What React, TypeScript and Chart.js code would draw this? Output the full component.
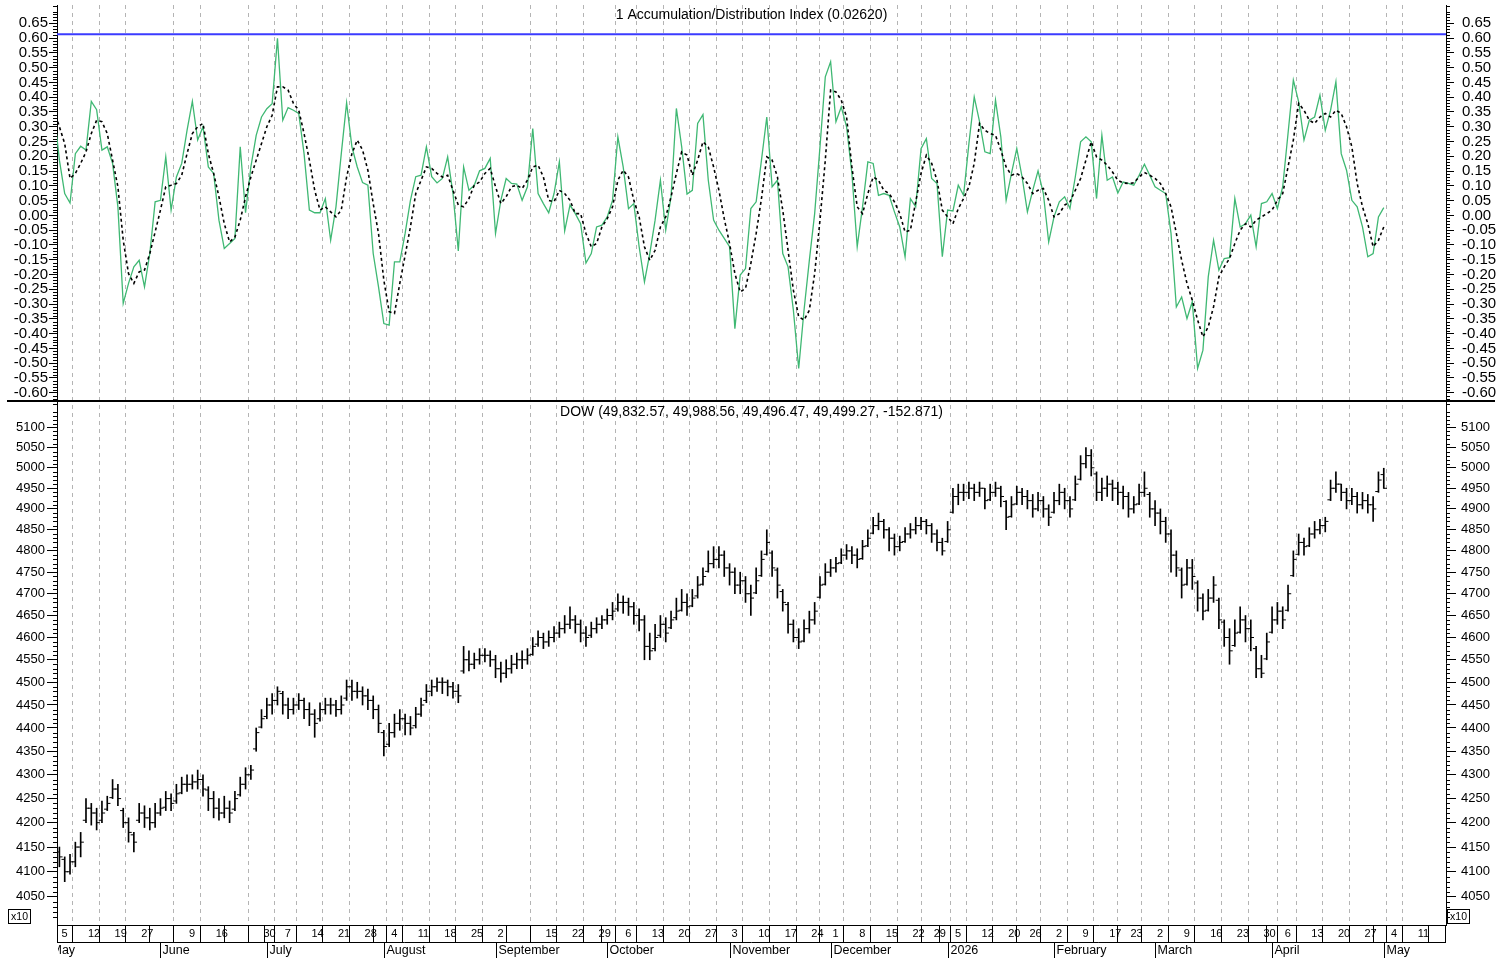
import React, { useEffect, useRef } from "react";
import { Chart, registerables } from "chart.js";

Chart.register(...registerables);

const FONT = '"Liberation Sans", Arial, Helvetica, sans-serif';

// x axis: trading-day index, 0 = Mon 2025-05-05 ... 249 = Fri 2026-05-01
const X_MIN = -0.45;
const X_MAX = 260.7;

const weekTickIdx = [0, 5, 10, 15, 19, 24, 29, 33, 38, 42, 47, 52, 57, 62, 67, 72, 77, 82, 86, 91, 96, 101, 106, 111, 116, 121, 126, 131, 136, 141, 145, 150, 155, 160, 164, 168, 173, 178, 182, 187, 192, 197, 201, 206, 211, 216, 221, 226, 230, 235, 240, 245, 250, 255];
const weekTickLabels = ["5", "12", "19", "27", "", "9", "16", "", "30", "7", "14", "21", "28", "4", "11", "18", "25", "2", "", "15", "22", "29", "6", "13", "20", "27", "3", "10", "17", "24", "1", "8", "15", "22", "29", "5", "12", "20", "26", "2", "9", "17", "23", "2", "9", "16", "23", "30", "6", "13", "20", "27", "4", "11"];
const monthStartIdx = [-2, 19, 39, 61, 82, 103, 126, 145, 167, 187, 206, 228, 249];
const monthLabels = ["May", "June", "July", "August", "September", "October", "November", "December", "2026", "February", "March", "April", "May"];

const adiTitle = "1 Accumulation/Distribution Index (0.02620)";
const dowTitle = "DOW (49,832.57, 49,988.56, 49,496.47, 49,499.27, -152.871)";

const adiTickValues = [-0.6, -0.55, -0.5, -0.45, -0.4, -0.35, -0.3, -0.25, -0.2, -0.15, -0.1, -0.05, 0, 0.05, 0.1, 0.15, 0.2, 0.25, 0.3, 0.35, 0.4, 0.45, 0.5, 0.55, 0.6, 0.65];
const dowTickValues = [4050, 4100, 4150, 4200, 4250, 4300, 4350, 4400, 4450, 4500, 4550, 4600, 4650, 4700, 4750, 4800, 4850, 4900, 4950, 5000, 5050, 5100];

const ADI_MIN = -0.628;
const ADI_MAX = 0.712;
const DOW_MIN = 3994.1;
const DOW_MAX = 5166.8;

const adiReference = 0.613;
const adiStartIdx = -1;
const adiValues = [
  0.350,
  0.187, 0.074, 0.042, 0.209, 0.234, 0.221, 0.386, 0.358, 0.221, 0.232,
  0.176, 0.029, -0.298, -0.230, -0.174, -0.152, -0.242, -0.129, 0.046, 0.051,
  0.198, 0.018, 0.130, 0.176, 0.288, 0.386, 0.255, 0.300, 0.164, 0.142,
  -0.016, -0.112, -0.095, -0.078, 0.232, 0.009, 0.164, 0.271, 0.333, 0.361,
  0.378, 0.599, 0.322, 0.365, 0.356, 0.345, 0.209, 0.018, 0.009, 0.009,
  0.057, -0.084, 0.029, 0.209, 0.381, 0.232, 0.164, 0.111, 0.102, -0.129,
  -0.242, -0.366, -0.371, -0.157, -0.157, -0.061, 0.051, 0.131, 0.136, 0.232,
  0.131, 0.110, 0.125, 0.198, 0.074, -0.120, 0.164, 0.085, 0.102, 0.151,
  0.159, 0.193, -0.061, 0.051, 0.125, 0.108, 0.106, 0.051, 0.097, 0.294,
  0.074, 0.040, 0.009, 0.074, 0.181, -0.052, 0.035, 0.006, -0.028, -0.161,
  -0.129, -0.039, -0.033, -0.005, 0.051, 0.266, 0.164, 0.023, 0.040, -0.106,
  -0.225, -0.129, -0.016, 0.119, -0.050, 0.063, 0.362, 0.232, 0.072, 0.085,
  0.311, 0.341, 0.119, -0.016, -0.050, -0.078, -0.106, -0.383, -0.202, -0.180,
  0.023, 0.046, 0.187, 0.333, 0.097, 0.119, -0.129, -0.174, -0.321, -0.518,
  -0.321, -0.152, 0.006, 0.232, 0.469, 0.520, 0.317, 0.367, 0.300, 0.142,
  -0.106, 0.029, 0.181, 0.176, 0.068, 0.074, 0.068, 0.012, -0.039, -0.140,
  0.057, 0.029, 0.226, 0.260, 0.125, 0.108, -0.140, 0.018, 0.015, 0.102,
  0.068, 0.243, 0.401, 0.317, 0.215, 0.209, 0.390, 0.266, 0.051, 0.142,
  0.226, 0.130, 0.012, 0.085, 0.151, 0.074, -0.090, -0.005, 0.046, 0.063,
  0.023, 0.130, 0.249, 0.266, 0.249, 0.057, 0.271, 0.119, 0.130, 0.076,
  0.113, 0.108, 0.102, 0.136, 0.173, 0.136, 0.097, 0.085, 0.074, -0.061,
  -0.310, -0.276, -0.349, -0.292, -0.518, -0.456, -0.208, -0.084, -0.185, -0.146,
  -0.143, 0.057, -0.039, -0.028, 0.001, -0.106, 0.040, 0.046, 0.074, 0.023,
  0.097, 0.277, 0.458, 0.384, 0.255, 0.322, 0.333, 0.407, 0.288, 0.356,
  0.452, 0.209, 0.153, 0.051, 0.029, -0.039, -0.140, -0.129, -0.005, 0.0262,
];
const adiAverage = [
  0.356,
  0.300, 0.243, 0.125, 0.142, 0.176, 0.215, 0.277, 0.322, 0.317, 0.277,
  0.187, 0.097, -0.084, -0.197, -0.230, -0.191, -0.185, -0.129, -0.056, 0.018,
  0.097, 0.102, 0.108, 0.136, 0.209, 0.277, 0.300, 0.311, 0.209, 0.142,
  0.063, -0.028, -0.090, -0.073, -0.016, 0.063, 0.130, 0.187, 0.243, 0.300,
  0.339, 0.435, 0.435, 0.424, 0.379, 0.356, 0.277, 0.187, 0.085, 0.018,
  0.029, 0.012, -0.005, 0.018, 0.130, 0.209, 0.255, 0.221, 0.153, 0.040,
  -0.061, -0.219, -0.326, -0.332, -0.230, -0.135, -0.039, 0.074, 0.119, 0.164,
  0.159, 0.142, 0.130, 0.136, 0.085, 0.035, 0.029, 0.057, 0.102, 0.113,
  0.142, 0.159, 0.097, 0.040, 0.063, 0.097, 0.102, 0.091, 0.119, 0.164,
  0.170, 0.130, 0.051, 0.046, 0.085, 0.074, 0.051, 0.006, 0.006, -0.061,
  -0.106, -0.095, -0.039, -0.011, 0.029, 0.119, 0.153, 0.130, 0.051, -0.005,
  -0.106, -0.152, -0.118, -0.039, -0.005, 0.063, 0.142, 0.215, 0.204, 0.136,
  0.187, 0.249, 0.232, 0.164, 0.085, -0.011, -0.095, -0.197, -0.259, -0.247,
  -0.163, -0.061, 0.057, 0.198, 0.187, 0.130, 0.018, -0.118, -0.253, -0.343,
  -0.354, -0.321, -0.197, -0.016, 0.187, 0.424, 0.418, 0.390, 0.333, 0.164,
  0.029, 0.006, 0.074, 0.130, 0.119, 0.085, 0.074, 0.046, 0.006, -0.056,
  -0.050, 0.046, 0.142, 0.204, 0.176, 0.119, 0.018, -0.005, -0.028, 0.023,
  0.057, 0.097, 0.176, 0.311, 0.288, 0.277, 0.271, 0.221, 0.164, 0.136,
  0.142, 0.130, 0.108, 0.074, 0.085, 0.091, 0.051, -0.005, 0.006, 0.035,
  0.046, 0.085, 0.125, 0.187, 0.249, 0.198, 0.187, 0.170, 0.147, 0.119,
  0.110, 0.108, 0.110, 0.130, 0.145, 0.136, 0.125, 0.108, 0.074, 0.029,
  -0.061, -0.152, -0.230, -0.287, -0.354, -0.411, -0.377, -0.309, -0.208, -0.174,
  -0.146, -0.095, -0.050, -0.028, -0.039, -0.016, -0.005, 0.006, 0.018, 0.051,
  0.074, 0.164, 0.255, 0.379, 0.356, 0.322, 0.311, 0.333, 0.345, 0.333,
  0.356, 0.345, 0.300, 0.232, 0.108, 0.029, -0.028, -0.106, -0.084, -0.039,
];

// DOW daily bars (index value / 10, as on the x10 axis)
const dowOpen = [
  4140, 4125, 4100, 4120, 4150, 4205, 4230, 4220, 4205, 4228,
  4252, 4270, 4225, 4200, 4175, 4205, 4220, 4210, 4200, 4220,
  4232, 4250, 4245, 4262, 4280, 4280, 4285, 4290, 4268, 4250,
  4230, 4220, 4230, 4228, 4258, 4280, 4300, 4355, 4402, 4425,
  4450, 4460, 4475, 4450, 4440, 4450, 4460, 4440, 4430, 4420,
  4440, 4450, 4450, 4440, 4465, 4490, 4480, 4480, 4470, 4460,
  4440, 4390, 4365, 4390, 4410, 4420, 4410, 4405, 4430, 4460,
  4480, 4490, 4500, 4500, 4490, 4480, 4525, 4550, 4540, 4550,
  4560, 4560, 4550, 4530, 4520, 4530, 4540, 4550, 4550, 4562,
  4585, 4600, 4590, 4600, 4610, 4620, 4630, 4640, 4630, 4610,
  4605, 4620, 4630, 4640, 4650, 4665, 4680, 4680, 4670, 4650,
  4640, 4580, 4575, 4605, 4630, 4622, 4645, 4662, 4680, 4672,
  4695, 4722, 4752, 4770, 4780, 4790, 4760, 4750, 4720, 4730,
  4700, 4702, 4742, 4792, 4795, 4755, 4705, 4675, 4630, 4600,
  4592, 4620, 4640, 4692, 4722, 4750, 4760, 4772, 4790, 4800,
  4790, 4782, 4812, 4842, 4860, 4870, 4850, 4830, 4810, 4822,
  4840, 4850, 4860, 4870, 4860, 4840, 4820, 4822, 4892, 4930,
  4940, 4940, 4950, 4940, 4950, 4922, 4940, 4950, 4918, 4882,
  4912, 4940, 4930, 4920, 4900, 4920, 4900, 4892, 4920, 4940,
  4920, 4922, 4972, 5010, 5030, 4985, 4940, 4950, 4960, 4950,
  4940, 4930, 4900, 4912, 4940, 4935, 4900, 4890, 4870, 4840,
  4790, 4755, 4722, 4760, 4725, 4690, 4662, 4690, 4685, 4635,
  4600, 4582, 4612, 4640, 4620, 4575, 4530, 4552, 4612, 4640,
  4660, 4662, 4742, 4792, 4820, 4812, 4840, 4850, 4860, 4922,
  4950, 4960, 4940, 4920, 4930, 4910, 4920, 4910, 4942, 4983.3,
];
const dowHigh = [
  4150, 4130, 4135, 4160, 4180, 4250, 4240, 4230, 4245, 4255,
  4290, 4280, 4230, 4210, 4180, 4240, 4235, 4230, 4240, 4250,
  4265, 4260, 4280, 4295, 4300, 4300, 4310, 4300, 4275, 4265,
  4250, 4255, 4245, 4265, 4295, 4315, 4320, 4400, 4440, 4465,
  4475, 4490, 4480, 4465, 4465, 4475, 4465, 4455, 4440, 4455,
  4465, 4465, 4460, 4470, 4505, 4505, 4500, 4490, 4485, 4470,
  4450, 4395, 4410, 4430, 4440, 4430, 4425, 4445, 4465, 4495,
  4505, 4510, 4510, 4505, 4500, 4495, 4580, 4570, 4565, 4575,
  4575, 4570, 4560, 4545, 4550, 4560, 4565, 4570, 4575, 4600,
  4615, 4610, 4615, 4625, 4635, 4650, 4670, 4650, 4640, 4625,
  4635, 4645, 4650, 4665, 4680, 4700, 4695, 4690, 4680, 4665,
  4650, 4610, 4630, 4650, 4645, 4660, 4690, 4710, 4700, 4710,
  4740, 4760, 4800, 4810, 4810, 4800, 4770, 4760, 4750, 4740,
  4720, 4760, 4800, 4850, 4800, 4760, 4710, 4680, 4640, 4620,
  4640, 4660, 4680, 4740, 4770, 4780, 4785, 4805, 4815, 4810,
  4805, 4825, 4850, 4880, 4890, 4875, 4855, 4840, 4835, 4855,
  4865, 4880, 4880, 4875, 4865, 4850, 4830, 4870, 4950, 4960,
  4960, 4965, 4960, 4965, 4950, 4960, 4965, 4955, 4920, 4930,
  4955, 4950, 4945, 4935, 4940, 4930, 4910, 4940, 4960, 4950,
  4930, 4980, 5030, 5050, 5045, 4990, 4975, 4980, 4970, 4965,
  4955, 4940, 4930, 4960, 4990, 4940, 4920, 4900, 4880, 4850,
  4800, 4760, 4780, 4780, 4730, 4700, 4710, 4740, 4690, 4640,
  4620, 4640, 4670, 4650, 4640, 4580, 4560, 4610, 4670, 4680,
  4670, 4720, 4800, 4840, 4830, 4855, 4870, 4875, 4880, 4970,
  4990, 4960, 4950, 4950, 4940, 4940, 4935, 4930, 4990, 4998.9,
];
const dowLow = [
  4110, 4080, 4095, 4110, 4130, 4200, 4195, 4185, 4200, 4225,
  4250, 4235, 4190, 4160, 4140, 4200, 4190, 4185, 4190, 4215,
  4225, 4225, 4240, 4260, 4265, 4270, 4270, 4255, 4225, 4210,
  4205, 4210, 4200, 4225, 4255, 4270, 4290, 4350, 4400, 4420,
  4430, 4450, 4430, 4420, 4430, 4440, 4420, 4405, 4380, 4415,
  4430, 4430, 4425, 4430, 4460, 4460, 4465, 4450, 4440, 4420,
  4390, 4340, 4360, 4380, 4395, 4385, 4385, 4400, 4425, 4455,
  4470, 4480, 4475, 4470, 4465, 4455, 4520, 4525, 4530, 4540,
  4545, 4535, 4510, 4500, 4510, 4520, 4530, 4530, 4540, 4560,
  4580, 4575, 4580, 4590, 4600, 4610, 4620, 4610, 4590, 4580,
  4600, 4610, 4620, 4630, 4640, 4660, 4655, 4650, 4630, 4615,
  4550, 4550, 4570, 4600, 4590, 4620, 4640, 4660, 4650, 4670,
  4690, 4720, 4750, 4760, 4760, 4740, 4720, 4700, 4700, 4680,
  4650, 4700, 4740, 4790, 4740, 4690, 4660, 4610, 4590, 4575,
  4590, 4610, 4630, 4690, 4720, 4740, 4750, 4770, 4780, 4770,
  4760, 4780, 4810, 4840, 4850, 4830, 4800, 4790, 4800, 4820,
  4830, 4840, 4850, 4840, 4820, 4800, 4790, 4820, 4890, 4910,
  4920, 4925, 4920, 4930, 4900, 4920, 4930, 4905, 4850, 4880,
  4910, 4910, 4900, 4880, 4895, 4880, 4860, 4890, 4910, 4900,
  4880, 4920, 4970, 5000, 4980, 4920, 4920, 4930, 4920, 4910,
  4900, 4880, 4890, 4910, 4930, 4880, 4860, 4840, 4820, 4750,
  4740, 4690, 4720, 4710, 4660, 4640, 4660, 4680, 4620, 4580,
  4540, 4580, 4610, 4590, 4570, 4510, 4510, 4550, 4610, 4630,
  4620, 4660, 4740, 4790, 4790, 4810, 4830, 4840, 4845, 4920,
  4940, 4920, 4900, 4910, 4890, 4900, 4890, 4870, 4940, 4949.6,
];
const dowClose = [
  4130, 4100, 4120, 4150, 4160, 4230, 4220, 4200, 4220, 4240,
  4270, 4250, 4200, 4180, 4160, 4220, 4210, 4200, 4220, 4230,
  4250, 4240, 4260, 4280, 4280, 4285, 4290, 4270, 4250, 4230,
  4220, 4230, 4220, 4250, 4280, 4300, 4310, 4390, 4420, 4450,
  4460, 4480, 4450, 4440, 4450, 4460, 4440, 4430, 4410, 4440,
  4450, 4450, 4440, 4450, 4490, 4480, 4480, 4470, 4460, 4440,
  4410, 4360, 4390, 4410, 4420, 4410, 4400, 4430, 4450, 4480,
  4490, 4500, 4500, 4490, 4480, 4470, 4550, 4540, 4550, 4560,
  4560, 4550, 4530, 4520, 4530, 4540, 4550, 4550, 4560, 4580,
  4600, 4590, 4600, 4610, 4620, 4630, 4640, 4630, 4610, 4600,
  4620, 4630, 4640, 4650, 4660, 4680, 4680, 4670, 4650, 4640,
  4580, 4570, 4600, 4630, 4610, 4640, 4660, 4680, 4670, 4690,
  4720, 4740, 4770, 4780, 4790, 4760, 4750, 4720, 4730, 4700,
  4690, 4730, 4780, 4820, 4760, 4720, 4680, 4630, 4600, 4590,
  4620, 4640, 4660, 4720, 4750, 4760, 4770, 4790, 4800, 4790,
  4780, 4810, 4830, 4860, 4870, 4850, 4830, 4810, 4820, 4840,
  4850, 4860, 4870, 4860, 4840, 4820, 4800, 4850, 4930, 4940,
  4940, 4950, 4940, 4950, 4920, 4940, 4950, 4930, 4880, 4910,
  4940, 4930, 4920, 4900, 4920, 4900, 4880, 4920, 4940, 4920,
  4900, 4960, 5010, 5030, 5000, 4940, 4950, 4960, 4950, 4940,
  4930, 4900, 4910, 4940, 4950, 4900, 4890, 4870, 4840, 4790,
  4760, 4720, 4760, 4740, 4690, 4660, 4690, 4720, 4640, 4600,
  4570, 4610, 4640, 4620, 4600, 4530, 4520, 4590, 4640, 4660,
  4640, 4700, 4780, 4820, 4810, 4840, 4850, 4860, 4870, 4950,
  4960, 4940, 4920, 4930, 4910, 4920, 4910, 4900, 4970, 4949.9,
];

const xTickIdx = Array.from(new Set([...weekTickIdx, ...monthStartIdx.filter((m) => m >= X_MIN)])).sort((a, b) => a - b);
const xTickLabel = new Map<number, string>(weekTickIdx.map((v, i) => [v, weekTickLabels[i]]));
const gridIdx = new Set(weekTickIdx.filter((_, i) => weekTickLabels[i] !== ""));

const decorPlugin = {
  id: "decor",
  afterDraw(chart: any) {
    const { ctx, chartArea } = chart;
    const { left, right, bottom } = chartArea;
    const sx = chart.scales.x;
    const sA = chart.scales.yA;
    const sD = chart.scales.yD;
    ctx.save();
    ctx.lineWidth = 1;
    ctx.strokeStyle = "#000";
    ctx.fillStyle = "#000";
    ctx.setLineDash([]);
    // minor ticks
    ctx.beginPath();
    for (let k = -63; k <= 71; k++) {
      if (k % 5 === 0) continue;
      const y = Math.round(sA.getPixelForValue(k / 100)) + 0.5;
      if (y < sA.top || y > sA.bottom) continue;
      ctx.moveTo(left - 4, y);
      ctx.lineTo(left, y);
      ctx.moveTo(right, y);
      ctx.lineTo(right + 4, y);
    }
    for (let v = 4000; v <= 5160; v += 10) {
      if (v % 50 === 0) continue;
      const y = Math.round(sD.getPixelForValue(v)) + 0.5;
      if (y < sD.top || y > sD.bottom) continue;
      ctx.moveTo(left - 4, y);
      ctx.lineTo(left, y);
      ctx.moveTo(right, y);
      ctx.lineTo(right + 4, y);
    }
    // date row frame
    const rowB = bottom + 17;
    ctx.moveTo(left, rowB + 0.5);
    ctx.lineTo(right, rowB + 0.5);
    ctx.moveTo(left + 0.5, bottom);
    ctx.lineTo(left + 0.5, rowB);
    ctx.moveTo(right - 0.5, bottom);
    ctx.lineTo(right - 0.5, rowB);
    ctx.stroke();
    // panel divider
    ctx.fillRect(7, Math.round(sA.bottom) - 1, 1488, 2);
    // month row
    ctx.save();
    ctx.beginPath();
    ctx.rect(left + 1, rowB, right - left - 1, 20);
    ctx.clip();
    ctx.font = `12.5px ${FONT}`;
    ctx.textBaseline = "middle";
    ctx.textAlign = "left";
    ctx.beginPath();
    monthStartIdx.forEach((m, i) => {
      const px = Math.round(sx.getPixelForValue(m)) + 0.5;
      ctx.moveTo(px, rowB);
      ctx.lineTo(px, rowB + 16);
      ctx.fillText(monthLabels[i], px + 2, rowB + 8.5);
    });
    ctx.stroke();
    ctx.restore();
    // x10 boxes
    ctx.font = `10.5px ${FONT}`;
    ctx.textAlign = "center";
    ctx.textBaseline = "middle";
    ctx.strokeRect(8.5, 909.5, 22, 14);
    ctx.fillText("x10", 19.5, 917);
    ctx.strokeRect(right + 1.5, 909.5, 22, 14);
    ctx.fillText("x10", right + 12.5, 917);
    // titles
    ctx.font = `14px ${FONT}`;
    ctx.fillText(adiTitle, (left + right) / 2, 15);
    ctx.fillText(dowTitle, (left + right) / 2, sD.top + 11);
    ctx.restore();
  },
};

function yAxis(kind: "adi" | "dow", side: "left" | "right") {
  const isAdi = kind === "adi";
  const values = isAdi ? adiTickValues : dowTickValues;
  return {
    type: isAdi ? "linear" : "logarithmic",
    position: side,
    stack: side === "left" ? "L" : "R",
    stackWeight: isAdi ? 396 : 524,
    min: isAdi ? ADI_MIN : DOW_MIN,
    max: isAdi ? ADI_MAX : DOW_MAX,
    bounds: "data",
    afterBuildTicks: (s: any) => {
      s.ticks = values.map((v) => ({ value: v }));
    },
    afterFit: (s: any) => {
      s.width = side === "left" ? 57 : 62;
      s.paddingTop = 0;
      s.paddingBottom = 0;
    },
    ticks: {
      autoSkip: false,
      padding: side === "left" ? (isAdi ? 1 : 2) : isAdi ? 8 : 5,
      color: "#000",
      font: { family: FONT, size: isAdi ? 15 : 13 },
      callback: (v: any) => (isAdi ? Number(v).toFixed(2) : String(Math.round(Number(v)))),
    },
    grid: {
      drawOnChartArea: false,
      drawTicks: true,
      tickLength: isAdi ? 8 : 10,
      color: "#000",
      tickColor: "#000",
      lineWidth: 1,
    },
    border: { display: true, color: "#000", width: 1 },
  };
}

export default function App() {
  const ref = useRef<HTMLCanvasElement>(null);
  useEffect(() => {
    const canvas = ref.current;
    if (!canvas) return;
    const chart = new Chart(canvas, {
      type: "line",
      data: {
        datasets: [
          {
            type: "line",
            label: "A/D average",
            xAxisID: "x",
            yAxisID: "yA",
            data: adiAverage.map((v, i) => ({ x: adiStartIdx + i, y: v })),
            borderColor: "#000",
            borderWidth: 1.6,
            borderDash: [3, 3],
            pointRadius: 0,
            tension: 0,
            clip: 0,
          },
          {
            type: "line",
            label: "A/D Index",
            xAxisID: "x",
            yAxisID: "yA",
            data: adiValues.map((v, i) => ({ x: adiStartIdx + i, y: v })),
            borderColor: "#3fb873",
            borderWidth: 1.3,
            pointRadius: 0,
            tension: 0,
            clip: 0,
          },
          {
            type: "line",
            label: "reference",
            xAxisID: "x",
            yAxisID: "yA",
            data: [
              { x: X_MIN, y: adiReference },
              { x: X_MAX, y: adiReference },
            ],
            borderColor: "#3b3bff",
            borderWidth: 2,
            pointRadius: 0,
          },
          {
            type: "bar",
            label: "DOW range",
            xAxisID: "x",
            yAxisID: "yD",
            data: dowHigh.map((h, i) => ({ x: i, y: [dowLow[i], h] })),
            backgroundColor: "#000",
            borderWidth: 0,
            barThickness: 1,
            grouped: false,
          },
          {
            type: "line",
            label: "DOW open",
            xAxisID: "x",
            yAxisID: "yD",
            showLine: false,
            data: dowOpen.map((o, i) => ({ x: i - 0.3, y: o })),
            pointStyle: "line",
            pointRadius: 1.6,
            pointBorderWidth: 1,
            pointBorderColor: "#000",
            pointBackgroundColor: "#000",
          },
          {
            type: "line",
            label: "DOW close",
            xAxisID: "x",
            yAxisID: "yD",
            showLine: false,
            data: dowClose.map((c, i) => ({ x: i + 0.3, y: c })),
            pointStyle: "line",
            pointRadius: 1.6,
            pointBorderWidth: 1,
            pointBorderColor: "#000",
            pointBackgroundColor: "#000",
          },
        ] as any,
      },
      options: {
        responsive: false,
        animation: false,
        devicePixelRatio: 1,
        events: [],
        layout: { padding: { top: 5, bottom: 20, left: 0, right: 0 }, autoPadding: false },
        plugins: { legend: { display: false }, title: { display: false }, tooltip: { enabled: false } },
        scales: {
          x: {
            type: "linear",
            position: "bottom",
            min: X_MIN,
            max: X_MAX,
            offset: false,
            bounds: "data",
            afterBuildTicks: (s: any) => {
              s.ticks = xTickIdx.map((v) => ({ value: v }));
            },
            afterFit: (s: any) => {
              s.height = 17;
              s.paddingLeft = 0;
              s.paddingRight = 0;
            },
            ticks: {
              autoSkip: false,
              maxRotation: 0,
              minRotation: 0,
              align: "start",
              labelOffset: 2,
              padding: -15,
              color: "#000",
              font: { family: FONT, size: 11 },
              callback: (v: any) => xTickLabel.get(Number(v)) ?? "",
            },
            grid: {
              display: true,
              drawOnChartArea: true,
              drawTicks: true,
              tickLength: 17,
              lineWidth: 1,
              color: (c: any) => (c.tick && gridIdx.has(c.tick.value) ? "#b4b4b4" : "rgba(0,0,0,0)"),
              tickColor: "#000",
              tickWidth: 1,
              tickBorderDash: [],
            },
            border: { display: true, color: "#000", width: 1, dash: [4, 4] },
          },
          yD: yAxis("dow", "left"),
          yA: yAxis("adi", "left"),
          yA2: yAxis("adi", "right"),
          yD2: yAxis("dow", "right"),
        } as any,
      },
      plugins: [decorPlugin],
    });
    return () => chart.destroy();
  }, []);
  return (
    <div style={{ position: "fixed", left: 0, top: 0, width: 1508, height: 962, background: "#fff" }}>
      <canvas ref={ref} width={1508} height={962} style={{ width: 1508, height: 962, display: "block" }} />
    </div>
  );
}
